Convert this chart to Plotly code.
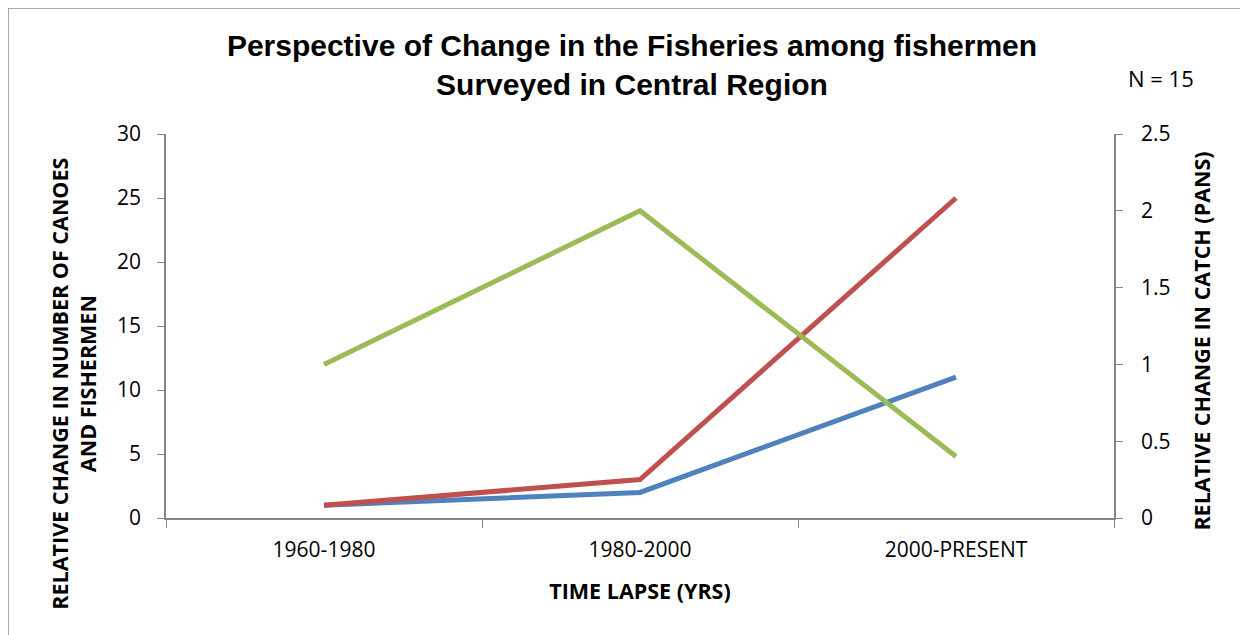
import plotly.graph_objects as go

periods = ["1960-1980", "1980-2000", "2000-PRESENT"]
canoes = [1, 2, 11]
fishermen = [1, 3, 25]
catch_pans = [1.0, 2.0, 0.4]

fig = go.Figure()
fig.add_trace(go.Scatter(x=periods, y=canoes, mode="lines", name="Canoes",
                         line=dict(color="#4F81BD", width=5)))
fig.add_trace(go.Scatter(x=periods, y=fishermen, mode="lines", name="Fishermen",
                         line=dict(color="#C0504D", width=5)))
fig.add_trace(go.Scatter(x=periods, y=catch_pans, mode="lines", name="Catch",
                         line=dict(color="#9BBB59", width=5), yaxis="y2"))

tick_font = dict(family="Open Sans, sans-serif", size=21, color="black")
lab_font = dict(family="Open Sans, sans-serif", size=21.5, color="black")
axis_col = "#868686"

fig.update_layout(
    width=1248, height=635,
    margin=dict(l=158, r=142, t=126, b=125),
    plot_bgcolor="white", paper_bgcolor="white",
    showlegend=False,
    title=dict(text="<b>Perspective of Change in the Fisheries among fishermen<br>Surveyed in Central Region</b>",
               x=0.5, xanchor="center", y=0.925, yanchor="top",
               font=dict(family="Liberation Sans, Arial", size=30, color="black")),
    xaxis=dict(type="category", range=[-0.5, 2.5], tickson="boundaries",
               ticks="outside", ticklen=8, tickcolor=axis_col,
               showline=True, linecolor=axis_col, linewidth=1.5,
               showgrid=False, tickfont=tick_font, ticklabelstandoff=12,
               title=dict(text="<b>TIME LAPSE (YRS)</b>", standoff=22, font=lab_font)),
    yaxis=dict(range=[0, 30], dtick=5, ticks="outside", ticklen=7, tickcolor=axis_col,
               showline=True, linecolor=axis_col, linewidth=1.5,
               showgrid=False, zeroline=False, tickfont=tick_font, ticklabelstandoff=12),
    yaxis2=dict(range=[0, 2.5], dtick=0.5, overlaying="y", side="right",
                ticks="outside", ticklen=7, tickcolor=axis_col,
                showline=True, linecolor=axis_col, linewidth=1.5,
                showgrid=False, zeroline=False, tickfont=tick_font, ticklabelstandoff=14),
    annotations=[
        dict(text="<b>RELATIVE CHANGE IN NUMBER OF CANOES<br>AND FISHERMEN</b>",
             xref="paper", yref="paper", x=-0.097, y=0.35, textangle=-90,
             showarrow=False, xanchor="center", yanchor="middle", font=lab_font),
        dict(text="<b>RELATIVE CHANGE IN CATCH (PANS)</b>",
             xref="paper", yref="paper", x=1.092, y=0.46, textangle=-90,
             showarrow=False, xanchor="center", yanchor="middle", font=lab_font),
        dict(text="N = 15", xref="paper", yref="paper", x=1.05, y=1.145,
             showarrow=False, xanchor="center", yanchor="middle",
             font=dict(family="Open Sans, sans-serif", size=22, color="black")),
    ],
    shapes=[dict(type="rect", xref="paper", yref="paper",
                 x0=-0.1667, x1=1.138, y0=-0.33, y1=1.328,
                 line=dict(color="#8C8C8C", width=1.5), layer="below")],
)

fig.write_html("out.html")
